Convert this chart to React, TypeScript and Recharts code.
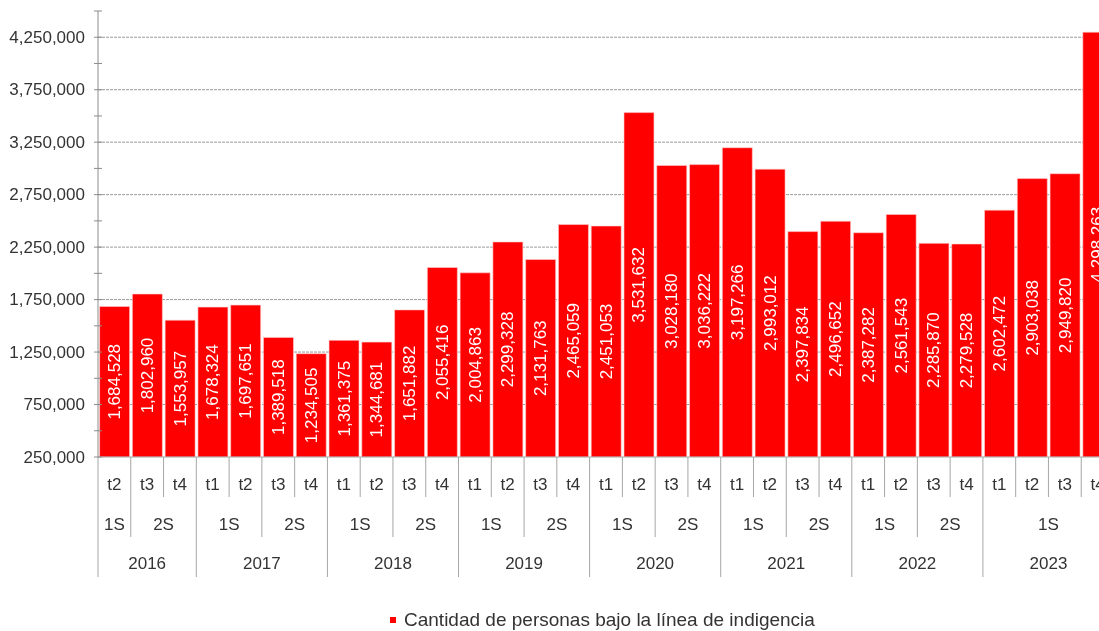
import { BarChart, Bar, XAxis, YAxis, CartesianGrid, LabelList, Legend } from "recharts";

const FONT = "'Liberation Sans', Arial, sans-serif";
const RED = "#FF0000";

// Trimestres, semestres y años de cada barra (de 2016-t2 a 2023-t4)
const quarters = [
  "t2", "t3", "t4",
  "t1", "t2", "t3", "t4",
  "t1", "t2", "t3", "t4",
  "t1", "t2", "t3", "t4",
  "t1", "t2", "t3", "t4",
  "t1", "t2", "t3", "t4",
  "t1", "t2", "t3", "t4",
  "t1", "t2", "t3", "t4",
];
const semesters = [
  "1S", "2S", "2S",
  "1S", "1S", "2S", "2S",
  "1S", "1S", "2S", "2S",
  "1S", "1S", "2S", "2S",
  "1S", "1S", "2S", "2S",
  "1S", "1S", "2S", "2S",
  "1S", "1S", "2S", "2S",
  "1S", "1S", "1S", "1S",
];
const years = [
  "2016", "2016", "2016",
  "2017", "2017", "2017", "2017",
  "2018", "2018", "2018", "2018",
  "2019", "2019", "2019", "2019",
  "2020", "2020", "2020", "2020",
  "2021", "2021", "2021", "2021",
  "2022", "2022", "2022", "2022",
  "2023", "2023", "2023", "2023",
];
const personas = [
  1684528, 1802960, 1553957,
  1678324, 1697651, 1389518, 1234505,
  1361375, 1344681, 1651882, 2055416,
  2004863, 2299328, 2131763, 2465059,
  2451053, 3531632, 3028180, 3036222,
  3197266, 2993012, 2397834, 2496652,
  2387282, 2561543, 2285870, 2279528,
  2602472, 2903038, 2949820, 4298263,
];

const yTicks = [
  250000, 500000, 750000, 1000000, 1250000, 1500000, 1750000, 2000000, 2250000,
  2500000, 2750000, 3000000, 3250000, 3500000, 3750000, 4000000, 4250000, 4500000,
];
const yLabeled = [250000, 750000, 1250000, 1750000, 2250000, 2750000, 3250000, 3750000, 4250000];
const gridValues = [750000, 1250000, 1750000, 2250000, 2750000, 3250000, 3750000, 4250000];

const data = personas.map((v, i) => ({ key: `${years[i]}-${quarters[i]}`, value: v }));

const CHART_W = 1110;
const CHART_H = 623;
const MARGIN = { top: 3, right: 4, left: 0, bottom: 0 };
const Y_W = 90;
const BW = (CHART_W - MARGIN.left - MARGIN.right - Y_W) / data.length;
const ROW = 40;

// grupos contiguos (inicio, fin) de una etiqueta
function runs(labels: string[]) {
  const out: { start: number; end: number; label: string }[] = [];
  labels.forEach((l, i) => {
    const last = out[out.length - 1];
    if (last && last.label === l) last.end = i;
    else out.push({ start: i, end: i, label: l });
  });
  return out;
}
const semKeys = years.map((y, i) => y + semesters[i]);
const semRuns = runs(semKeys);
const yearRuns = runs(years);

const LINE = "#a6a6a6";
const TXT = "#333333";

function CategoryTick(props: any) {
  const { x, y, payload } = props;
  const i: number = props.index ?? payload.index;
  const left = x - BW / 2;
  const newYear = i === 0 || years[i] !== years[i - 1];
  const newSem = newYear || semesters[i] !== semesters[i - 1];
  const len = newYear ? ROW * 3 : newSem ? ROW * 2 : ROW;
  const sr = semRuns.find((r) => r.start === i);
  const yr = yearRuns.find((r) => r.start === i);
  const txt = { fontFamily: FONT, fontSize: 17, fill: TXT, textAnchor: "middle" as const, dominantBaseline: "central" as const };
  return (
    <g>
      <line x1={left} x2={left} y1={y} y2={y + len} stroke={LINE} strokeWidth={1} />
      <text x={x} y={y + 27} {...txt}>{quarters[i]}</text>
      {sr && (
        <text x={x + ((sr.start + sr.end) / 2 - i) * BW} y={y + ROW + 27} {...txt}>
          {semesters[i]}
        </text>
      )}
      {yr && (
        <text x={x + ((yr.start + yr.end) / 2 - i) * BW} y={y + ROW * 2 + 26} {...txt}>
          {years[i]}
        </text>
      )}
    </g>
  );
}

function ValueTick(props: any) {
  const { x, y, payload } = props;
  const show = yLabeled.includes(payload.value);
  return (
    <g>
      <line x1={x - 4} x2={x + 4} y1={y} y2={y} stroke="#8c8c8c" strokeWidth={1} />
      {show && (
        <text x={x - 13} y={y} textAnchor="end" dominantBaseline="central" fontFamily={FONT} fontSize={17} fill={TXT}>
          {payload.value.toLocaleString("en-US")}
        </text>
      )}
    </g>
  );
}

function BarValue(props: any) {
  const { x, y, width, height, value } = props;
  const cx = x + width / 2;
  const cy = y + height / 2;
  return (
    <text
      x={cx}
      y={cy}
      transform={`rotate(-90 ${cx} ${cy})`}
      textAnchor="middle"
      dominantBaseline="central"
      fontFamily={FONT}
      fontSize={17}
      fill="#ffffff"
    >
      {Number(value).toLocaleString("en-US")}
    </text>
  );
}

function LegendBox() {
  return (
    <div style={{ position: "relative", height: 54, fontFamily: FONT, fontSize: 19, color: TXT }}>
      <span style={{ position: "absolute", left: 382, top: 40, width: 6, height: 6, background: RED }} />
      <span style={{ position: "absolute", left: 396, top: 32, lineHeight: "22px", whiteSpace: "nowrap" }}>
        Cantidad de personas bajo la línea de indigencia
      </span>
    </div>
  );
}

export default function App() {
  return (
    <div style={{ position: "fixed", top: 8, left: 8, width: 1091, height: 623, overflow: "hidden" }}>
      <BarChart width={CHART_W} height={CHART_H} data={data} margin={MARGIN} barCategoryGap={1.6}>
        <CartesianGrid vertical={false} horizontalValues={gridValues} stroke="#9a9a9a" strokeDasharray="3 1" />
        <XAxis
          dataKey="key"
          interval={0}
          height={ROW * 3}
          tickSize={0}
          tickMargin={0}
          tickLine={false}
          axisLine={{ stroke: LINE }}
          tick={<CategoryTick />}
        />
        <YAxis
          type="number"
          domain={[250000, 4500000]}
          ticks={yTicks}
          interval={0}
          width={Y_W}
          tickSize={0}
          tickMargin={0}
          tickLine={false}
          axisLine={{ stroke: "#8c8c8c" }}
          tick={<ValueTick />}
          allowDataOverflow
        />
        <Bar dataKey="value" fill={RED} stroke="#ffd0d0" strokeWidth={0.6} isAnimationActive={false}>
          <LabelList dataKey="value" content={<BarValue />} />
        </Bar>
        <Legend verticalAlign="bottom" wrapperStyle={{ left: 0, width: CHART_W }} content={<LegendBox />} />
      </BarChart>
    </div>
  );
}
